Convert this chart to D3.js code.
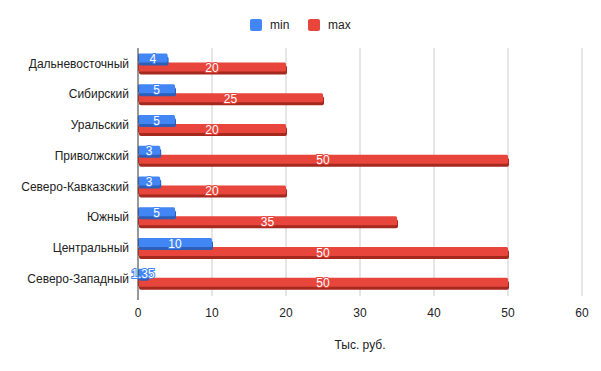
<!DOCTYPE html>
<html>
<head>
<meta charset="utf-8">
<script src="https://cdn.jsdelivr.net/npm/d3@7"></script>
<style>
  html, body { margin: 0; padding: 0; background: #fff; }
  svg { display: block; font-family: "Liberation Sans", Arial, sans-serif; }
</style>
</head>
<body>
<svg id="chart" width="601" height="371"></svg>
<script>
// Regions, top to bottom
const regions = ["Дальневосточный", "Сибирский", "Уральский", "Приволжский",
  "Северо-Кавказский", "Южный", "Центральный", "Северо-Западный"];
const minValues = [4, 5, 5, 3, 3, 5, 10, 1.35];
const maxValues = [20, 25, 20, 50, 20, 35, 50, 50];
const xTicks = [0, 10, 20, 30, 40, 50, 60];
const seriesNames = ["min", "max"];

const colors = { min: "#4285f4", max: "#e8453c" };
const shades = { min: "#2d5fb8", max: "#a5291f" };

const svg = d3.select("#chart");
const x = d3.scaleLinear().domain([0, 60]).range([138, 582]);
const y = d3.scaleBand().domain(regions).range([48, 294]);

// gridlines
svg.append("g")
  .selectAll("line")
  .data(xTicks.filter(d => d > 0))
  .join("line")
  .attr("x1", d => x(d)).attr("x2", d => x(d))
  .attr("y1", 48).attr("y2", 296)
  .attr("stroke", "#cccccc").attr("stroke-width", 1);

// tick labels
svg.append("g")
  .selectAll("text")
  .data(xTicks)
  .join("text")
  .attr("x", d => x(d))
  .attr("y", 317)
  .attr("text-anchor", "middle")
  .attr("font-size", 12)
  .attr("fill", "#222")
  .text(d => d);

// category labels
svg.append("g")
  .selectAll("text")
  .data(regions)
  .join("text")
  .attr("x", 129)
  .attr("y", d => y(d) + y.bandwidth() / 2)
  .attr("dy", "0.35em")
  .attr("text-anchor", "end")
  .attr("font-size", 12)
  .attr("fill", "#222")
  .text(d => d);

// bars: face top offset from band centre, face height
const layers = [
  { key: "max", values: maxValues, top: -1, h: 9 },
  { key: "min", values: minValues, top: -10, h: 9 }
];

function drawBars(layer) {
  const c = y.bandwidth() / 2;
  const g = svg.append("g");
  const rows = regions.map((r, i) => ({ r, v: layer.values[i] }));
  // shaded side (3D depth)
  g.selectAll("rect.side")
    .data(rows)
    .join("rect")
    .attr("class", "side")
    .attr("x", x(0) + 1)
    .attr("y", d => y(d.r) + c + layer.top + 3)
    .attr("width", d => Math.max(0, x(d.v) - x(0)))
    .attr("height", layer.h)
    .attr("rx", 2)
    .attr("fill", shades[layer.key]);
  // front face
  g.selectAll("rect.face")
    .data(rows)
    .join("rect")
    .attr("class", "face")
    .attr("x", x(0))
    .attr("y", d => y(d.r) + c + layer.top)
    .attr("width", d => Math.max(0, x(d.v) - x(0)))
    .attr("height", layer.h)
    .attr("rx", 1.5)
    .attr("fill", colors[layer.key]);
  return rows;
}

const maxRows = drawBars(layers[0]);
const minRows = drawBars(layers[1]);

// axis line
svg.append("line")
  .attr("x1", x(0)).attr("x2", x(0))
  .attr("y1", 48).attr("y2", 300)
  .attr("stroke", "#333").attr("stroke-width", 1);

// value labels
function drawLabels(rows, layer) {
  const c = y.bandwidth() / 2;
  svg.append("g")
    .selectAll("text")
    .data(rows)
    .join("text")
    .attr("x", d => (x(0) + x(d.v)) / 2)
    .attr("y", d => y(d.r) + c + layer.top + layer.h / 2 + 1)
    .attr("dy", "0.35em")
    .attr("text-anchor", "middle")
    .attr("font-size", 12)
    .attr("fill", "#fff")
    .attr("stroke", colors[layer.key])
    .attr("stroke-width", 2)
    .attr("paint-order", "stroke")
    .text(d => String(d.v));
}
drawLabels(maxRows, layers[0]);
drawLabels(minRows, layers[1]);

// axis title
svg.append("text")
  .attr("x", (x(0) + x(60)) / 2)
  .attr("y", 349)
  .attr("text-anchor", "middle")
  .attr("font-size", 12)
  .attr("fill", "#222")
  .text("Тыс. руб.");

// legend
const legend = svg.append("g");
const legendX = [250, 308];
seriesNames.forEach((s, i) => {
  legend.append("rect")
    .attr("x", legendX[i]).attr("y", 19)
    .attr("width", 12).attr("height", 12)
    .attr("rx", 2)
    .attr("fill", colors[s]);
  legend.append("text")
    .attr("x", legendX[i] + 20).attr("y", 25)
    .attr("dy", "0.35em")
    .attr("font-size", 12)
    .attr("fill", "#222")
    .text(s);
});
</script>
</body>
</html>
